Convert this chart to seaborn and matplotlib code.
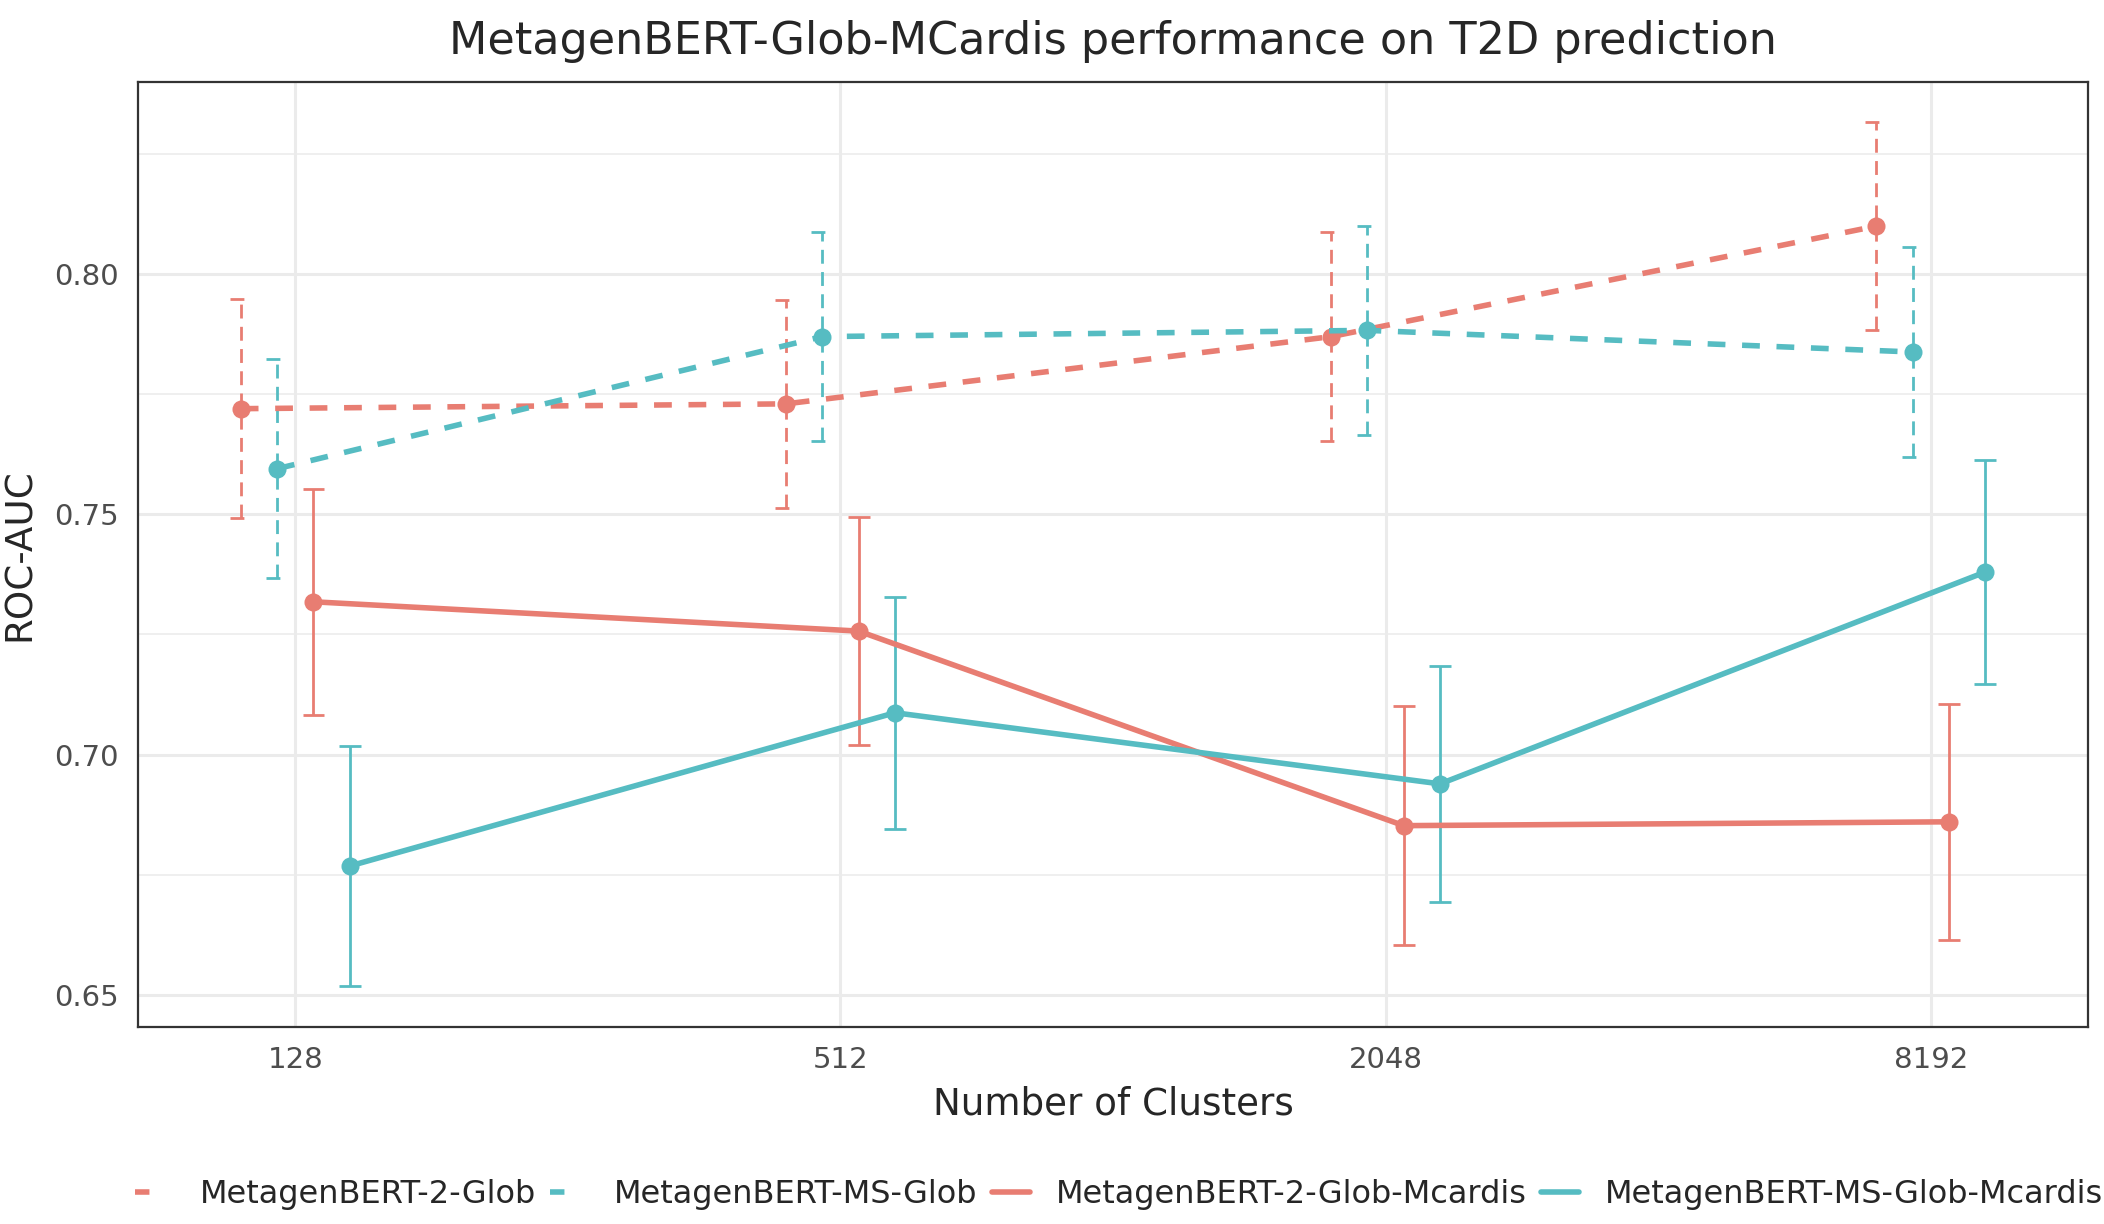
import numpy as np
import pandas as pd
import matplotlib
matplotlib.use('Agg')
import matplotlib.pyplot as plt
import seaborn as sns
from matplotlib.lines import Line2D

# данные (средние и полуширина ошибки)
clusters = ['128', '512', '2048', '8192']
models = ['MetagenBERT-2-Glob', 'MetagenBERT-MS-Glob',
          'MetagenBERT-2-Glob-Mcardis', 'MetagenBERT-MS-Glob-Mcardis']

glob2_mean = [0.772, 0.773, 0.787, 0.810]
glob2_err = [0.0228, 0.0217, 0.0217, 0.0216]
msglob_mean = [0.7595, 0.787, 0.7883, 0.7838]
msglob_err = [0.0228, 0.0217, 0.0218, 0.0218]
glob2_mc_mean = [0.7318, 0.7257, 0.6852, 0.686]
glob2_mc_err = [0.0235, 0.0237, 0.0249, 0.0246]
msglob_mc_mean = [0.6768, 0.7087, 0.6939, 0.738]
msglob_mc_err = [0.0249, 0.0241, 0.0245, 0.0234]

means = [glob2_mean, msglob_mean, glob2_mc_mean, msglob_mc_mean]
errs = [glob2_err, msglob_err, glob2_mc_err, msglob_mc_err]

red, cyan = '#E87D72', '#56BCC2'
colors = [red, cyan, red, cyan]
dashed = [True, True, False, False]

sns.set_style('white')
plt.rcParams['font.family'] = ['DejaVu Sans']

fig = plt.figure(figsize=(10.52, 6.12), dpi=200)
ax = fig.add_axes([0.0657, 0.161, 0.9266, 0.772])

dodge = 0.2
offsets = np.linspace(-dodge / 2, dodge / 2, len(models))
xbase = np.arange(len(clusters))

rows = []
for i, m in enumerate(models):
    for j, c in enumerate(clusters):
        rows.append({'model': m, 'x': xbase[j] + offsets[i],
                     'auc': means[i][j], 'err': errs[i][j]})
df = pd.DataFrame(rows)

cap = 0.02
for i, m in enumerate(models):
    d = df[df['model'] == m]
    ls_main = (0, (3.2, 3.0)) if dashed[i] else '-'
    ls_err = (0, (5.0, 3.0)) if dashed[i] else '-'
    sns.lineplot(data=d, x='x', y='auc', ax=ax, color=colors[i],
                 linewidth=2.0, linestyle=ls_main, marker='o', markersize=6.5,
                 markeredgewidth=0, sort=False, zorder=3)
    eb = ax.errorbar(d['x'], d['auc'], yerr=d['err'], fmt='none',
                     ecolor=colors[i], elinewidth=1.0, capsize=0, zorder=2)
    eb[2][0].set_linestyle(ls_err)
    ax.hlines(d['auc'] + d['err'], d['x'] - cap, d['x'] + cap,
              colors=colors[i], linewidth=1.0, linestyles=ls_err, zorder=2)
    ax.hlines(d['auc'] - d['err'], d['x'] - cap, d['x'] + cap,
              colors=colors[i], linewidth=1.0, linestyles=ls_err, zorder=2)

ax.set_xlim(-0.288, 3.288)
ax.set_ylim(0.6433, 0.840)
ax.set_xticks(xbase)
ax.set_xticklabels(clusters)
ax.set_yticks([0.65, 0.70, 0.75, 0.80])
ax.set_yticklabels(['0.65', '0.70', '0.75', '0.80'])
ax.set_yticks([0.675, 0.725, 0.775, 0.825], minor=True)

ax.grid(True, which='major', color='#EBEBEB', linewidth=1.1, zorder=0)
ax.grid(True, which='minor', axis='y', color='#EBEBEB', linewidth=0.55, zorder=0)
ax.set_axisbelow(True)
for s in ax.spines.values():
    s.set_color('#333333')
    s.set_linewidth(0.8)
ax.tick_params(axis='both', which='major', length=4, width=0.8, color='#333333',
               labelsize=10.5, labelcolor='#4D4D4D', pad=3)
ax.tick_params(axis='y', which='minor', length=0)

ax.set_xlabel('Number of Clusters', fontsize=13.4, labelpad=4)
ax.set_ylabel('ROC-AUC', fontsize=13.4, labelpad=6)
ax.set_title('MetagenBERT-Glob-MCardis performance on T2D prediction',
             fontsize=16, pad=10)

# легенда: пунктир показывает один штрих, как в исходнике
handles = []
for i, m in enumerate(models):
    ls = (0, (2.6, 10)) if dashed[i] else '-'
    handles.append(Line2D([], [], color=colors[i], linewidth=2.0, linestyle=ls))
fig.legend(handles, models, loc='lower center', bbox_to_anchor=(0.532, -0.012),
           ncol=4, frameon=False, fontsize=11.5, handlelength=1.2,
           columnspacing=0.45, handletextpad=0.8)

fig.savefig('out.png', dpi=200)
